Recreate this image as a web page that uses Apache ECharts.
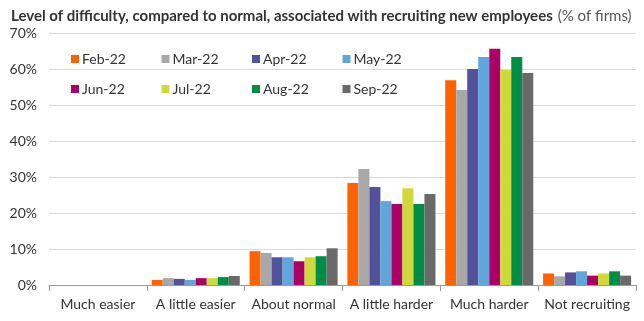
<!DOCTYPE html>
<html>
<head>
<meta charset="utf-8">
<script src="https://cdn.jsdelivr.net/npm/echarts@6/dist/echarts.min.js"></script>
<style>
  html, body { margin: 0; padding: 0; background: #fff; }
  #chart { width: 644px; height: 321px; }
</style>
</head>
<body>
<div id="chart"></div>
<script>
// categories and months
var categories = ['Much easier', 'A little easier', 'About normal', 'A little harder', 'Much harder', 'Not recruiting'];
var months = ['Feb-22', 'Mar-22', 'Apr-22', 'May-22', 'Jun-22', 'Jul-22', 'Aug-22', 'Sep-22'];
var colors = ['#FF6200', '#A8A8A8', '#525199', '#60A6DA', '#AB0066', '#D0D93C', '#008D48', '#696969'];

// % of firms, one array per month
var feb22 = [0, 1.4, 9.4, 28.3, 56.9, 3.2];
var mar22 = [0, 1.9, 8.9, 32.2, 54.2, 2.4];
var apr22 = [0, 1.7, 7.7, 27.2, 60.0, 3.5];
var may22 = [0, 1.4, 7.7, 23.3, 63.3, 3.8];
var jun22 = [0, 1.9, 6.6, 22.5, 65.6, 2.6];
var jul22 = [0, 1.9, 7.7, 26.9, 59.7, 3.2];
var aug22 = [0, 2.2, 8.0, 22.5, 63.3, 3.8];
var sep22 = [0, 2.5, 10.2, 25.3, 58.9, 2.6];
var values = [feb22, mar22, apr22, may22, jun22, jul22, aug22, sep22];

var yTicks = [0, 10, 20, 30, 40, 50, 60, 70];

var chart = echarts.init(document.getElementById('chart'));

var fontFam = 'Lato, "Open Sans", sans-serif';

// legend: 4 columns x 2 rows, one legend per item so columns line up
var legends = months.map(function (m, i) {
  return {
    data: [m],
    left: 66 + (i % 4) * 90.5,
    top: i < 4 ? 47 : 77,
    itemWidth: 8,
    itemHeight: 8,
    itemGap: 0,
    icon: 'rect',
    textStyle: { fontSize: 14, color: '#333', fontFamily: fontFam, padding: [0, 0, 0, -2] }
  };
});

var option = {
  animation: false,
  color: colors,
  title: {
    text: '{b|Level of difficulty, compared to normal, associated with recruiting new employees} {n|(% of firms)}',
    left: 6,
    top: 2,
    textStyle: {
      rich: {
        b: { fontSize: 15, fontWeight: 'bold', color: '#333', fontFamily: fontFam },
        n: { fontSize: 15, fontWeight: 'normal', color: '#555', fontFamily: fontFam }
      }
    }
  },
  legend: legends,
  grid: { left: 49, right: 8, top: 33, bottom: 36, containLabel: false },
  xAxis: {
    type: 'category',
    data: categories,
    axisLine: { lineStyle: { color: '#999' } },
    axisTick: { show: true, length: 6, lineStyle: { color: '#999' }, alignWithLabel: false },
    axisLabel: { fontSize: 14, color: '#333', fontFamily: fontFam, margin: 12, interval: 0 }
  },
  yAxis: {
    type: 'value',
    min: yTicks[0],
    max: yTicks[yTicks.length - 1],
    interval: 10,
    axisLine: { show: false },
    axisTick: { show: false },
    splitLine: { lineStyle: { color: '#d9d9d9' } },
    axisLabel: { fontSize: 14, color: '#333', fontFamily: fontFam, formatter: '{value}%', margin: 12 }
  },
  series: months.map(function (m, i) {
    return {
      name: m,
      type: 'bar',
      data: values[i],
      barGap: '0%',
      barCategoryGap: '10%'
    };
  })
};

chart.setOption(option);
</script>
</body>
</html>
